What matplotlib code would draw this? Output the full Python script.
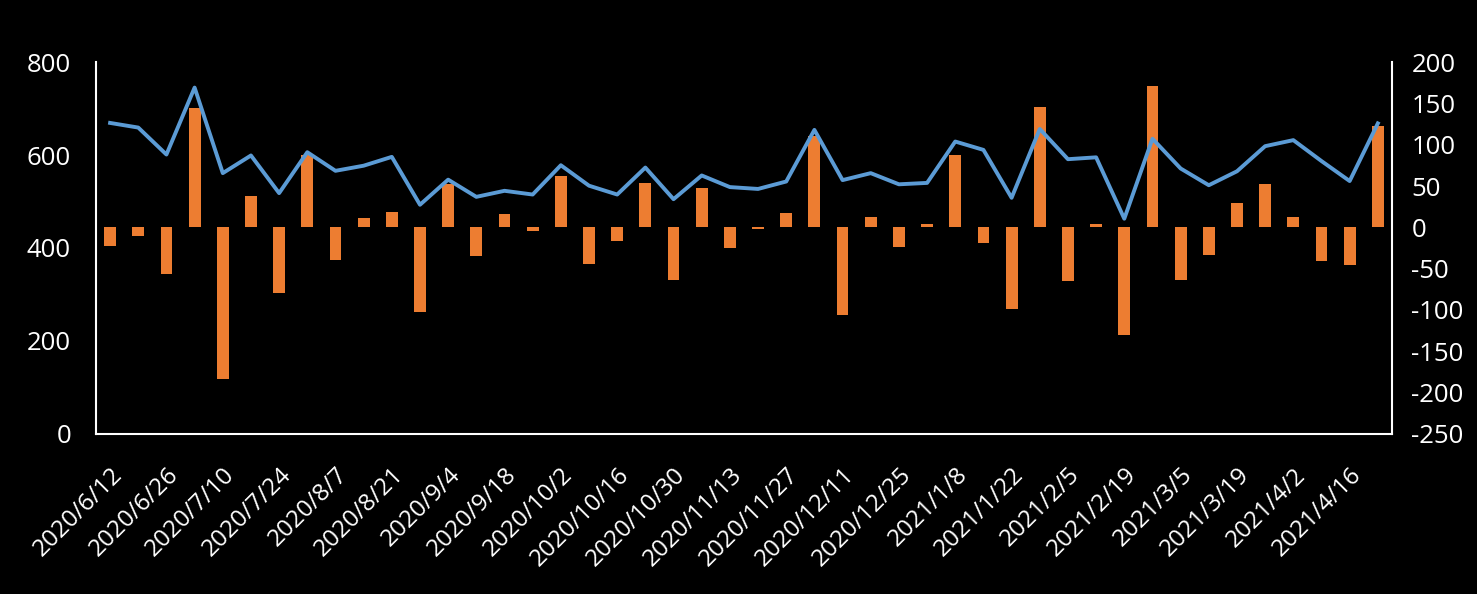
import matplotlib.pyplot as plt
import numpy as np

dates = ["2020/6/12", "2020/6/19", "2020/6/26", "2020/7/3", "2020/7/10", "2020/7/17",
         "2020/7/24", "2020/7/31", "2020/8/7", "2020/8/14", "2020/8/21", "2020/8/28",
         "2020/9/4", "2020/9/11", "2020/9/18", "2020/9/25", "2020/10/2", "2020/10/9",
         "2020/10/16", "2020/10/23", "2020/10/30", "2020/11/6", "2020/11/13", "2020/11/20",
         "2020/11/27", "2020/12/4", "2020/12/11", "2020/12/18", "2020/12/25", "2021/1/1",
         "2021/1/8", "2021/1/15", "2021/1/22", "2021/1/29", "2021/2/5", "2021/2/12",
         "2021/2/19", "2021/2/26", "2021/3/5", "2021/3/12", "2021/3/19", "2021/3/26",
         "2021/4/2", "2021/4/9", "2021/4/16", "2021/4/23"]

# weekly level (left axis)
level = [669, 659, 601, 745, 561, 599, 518, 606, 566, 577,
         596, 493, 547, 510, 523, 515, 578, 534, 515, 573,
         505, 556, 531, 527, 543, 654, 546, 561, 537, 540,
         629, 611, 508, 656, 591, 595, 463, 635, 571, 535,
         565, 619, 632, 587, 544, 668]

# weekly change (right axis)
change = [-22, -10, -57, 144, -184, 38, -80, 87, -40, 11,
          18, -102, 52, -35, 16, -4, 62, -44, -16, 54,
          -64, 47, -25, -2, 17, 110, -106, 13, -24, 4,
          87, -19, -99, 145, -65, 4, -130, 171, -64, -34,
          30, 52, 12, -41, -45, 122]

plt.rcParams['font.family'] = ['Open Sans', 'DejaVu Sans']
plt.rcParams['axes.unicode_minus'] = False

fig = plt.figure(figsize=(14.77, 5.94), dpi=100, facecolor='black')
ax = fig.add_axes([0.065, 0.2694, 0.8774, 0.6262])
ax2 = ax.twinx()

x = np.arange(len(dates))
ax2.bar(x, change, width=0.42, color='#ED7D31')
ax.plot(x, level, color='#5B9BD5', linewidth=2.8)

# keep the line above the bars
ax.set_zorder(ax2.zorder + 1)
ax.patch.set_visible(False)
ax2.set_facecolor('black')

ax.set_xlim(-0.5, len(dates) - 0.5)
ax.set_ylim(0, 800)
ax.set_yticks(range(0, 801, 200))
ax2.set_ylim(-250, 200)
ax2.set_yticks(range(-250, 201, 50))

ax.set_xticks(x[::2])
ax.set_xticklabels(dates[::2], rotation=45, ha='right', va='top',
                   rotation_mode='anchor', color='white')

for a in (ax, ax2):
    a.tick_params(axis='both', length=0, colors='white', labelsize=18.5)
    for s in a.spines.values():
        s.set_visible(False)
ax.tick_params(axis='x', labelsize=17.5, pad=21)
ax.tick_params(axis='y', pad=18)
ax2.tick_params(axis='y', pad=14)

ax.spines['left'].set_visible(True)
ax.spines['bottom'].set_visible(True)
ax2.spines['right'].set_visible(True)
for s in (ax.spines['left'], ax.spines['bottom'], ax2.spines['right']):
    s.set_color('white')
    s.set_linewidth(1.5)

fig.savefig('out.png', facecolor='black')
